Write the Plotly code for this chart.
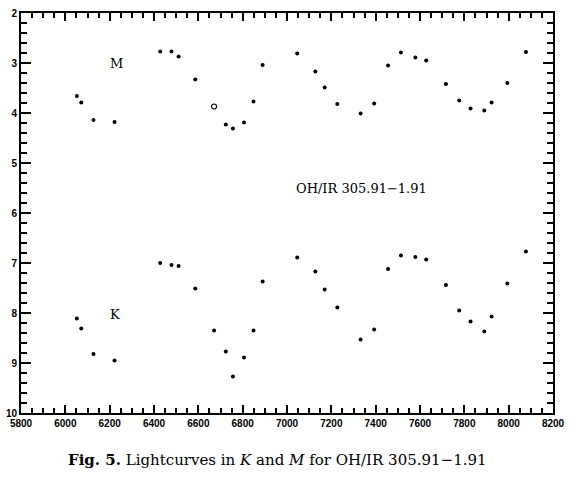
import plotly.graph_objects as go

# Julian date offsets (JD - 2440000) and magnitudes
m_jd = [6052, 6072, 6127, 6222, 6428, 6479, 6511, 6586, 6724, 6756, 6806, 6849, 6890,
        7046, 7128, 7170, 7227, 7332, 7393, 7456, 7514, 7579, 7628, 7717, 7777, 7828,
        7890, 7923, 7994, 8078]
m_mag = [3.66, 3.79, 4.14, 4.18, 2.77, 2.77, 2.87, 3.33, 4.23, 4.31, 4.19, 3.77, 3.04,
         2.81, 3.17, 3.49, 3.82, 4.01, 3.81, 3.05, 2.79, 2.89, 2.95, 3.42, 3.75, 3.91,
         3.95, 3.79, 3.40, 2.78]
m_open_jd = [6671]
m_open_mag = [3.87]

k_jd = [6052, 6072, 6127, 6222, 6428, 6479, 6511, 6586, 6671, 6724, 6756, 6806, 6849,
        6890, 7046, 7128, 7170, 7227, 7332, 7393, 7456, 7514, 7579, 7628, 7717, 7777,
        7828, 7890, 7923, 7994, 8078]
k_mag = [8.11, 8.31, 8.82, 8.95, 7.00, 7.04, 7.06, 7.51, 8.35, 8.77, 9.27, 8.89, 8.35,
         7.37, 6.89, 7.17, 7.53, 7.89, 8.53, 8.33, 7.12, 6.85, 6.88, 6.93, 7.44, 7.95,
         8.17, 8.37, 8.07, 7.41, 6.77]

x_ticks = list(range(5800, 8201, 200))
y_ticks = list(range(2, 11))

fig = go.Figure()
fig.add_trace(go.Scatter(x=m_jd, y=m_mag, mode="markers",
                         marker=dict(symbol="circle", size=4, color="black"),
                         showlegend=False))
fig.add_trace(go.Scatter(x=m_open_jd, y=m_open_mag, mode="markers",
                         marker=dict(symbol="circle-open", size=5, color="black",
                                     line=dict(width=1.2)),
                         showlegend=False))
fig.add_trace(go.Scatter(x=k_jd, y=k_mag, mode="markers",
                         marker=dict(symbol="circle", size=4, color="black"),
                         showlegend=False))

tickfont = dict(family="Liberation Sans", size=10, color="black", weight="bold")

fig.update_xaxes(range=[x_ticks[0], x_ticks[-1]],
                 tick0=x_ticks[0], dtick=x_ticks[1] - x_ticks[0],
                 ticks="inside", ticklen=8, tickwidth=2, tickcolor="black",
                 showline=True, linecolor="black", linewidth=2, mirror="allticks",
                 gridcolor="white", zerolinecolor="white", tickfont=tickfont,
                 automargin=False,
                 minor=dict(dtick=50, tick0=x_ticks[0], ticks="inside",
                            ticklen=5, tickwidth=1.6, tickcolor="black"))
fig.update_yaxes(range=[y_ticks[-1], y_ticks[0]],
                 tick0=y_ticks[0], dtick=1,
                 ticks="inside", ticklen=10, tickwidth=2, tickcolor="black",
                 showline=True, linecolor="black", linewidth=2, mirror="allticks",
                 gridcolor="white", zerolinecolor="white", tickfont=tickfont,
                 automargin=False,
                 minor=dict(dtick=0.2, tick0=y_ticks[0], ticks="inside",
                            ticklen=6, tickwidth=1.6, tickcolor="black"))

serif = "DejaVu Serif"
fig.add_annotation(x=6229, y=3.01, text="M", showarrow=False,
                   font=dict(family=serif, size=13, color="black"))
fig.add_annotation(x=6225, y=8.02, text="K", showarrow=False,
                   font=dict(family=serif, size=13, color="black"))
fig.add_annotation(x=7335, y=5.5, text="OH/IR 305.91\u22121.91", showarrow=False,
                   font=dict(family=serif, size=13, color="black"))
fig.add_annotation(xref="paper", yref="paper", x=0.483, y=-0.145,
                   text="<b>Fig. 5.</b> Lightcurves in <i>K</i> and <i>M</i> for OH/IR 305.91\u22121.91",
                   showarrow=False, font=dict(family=serif, size=15, color="black"))

fig.update_layout(width=570, height=490, margin=dict(l=21, r=17, t=13, b=77),
                  plot_bgcolor="white", paper_bgcolor="white")

fig.write_html("out.html", config={"displayModeBar": False},
               post_script="document.body.style.margin='0';document.body.style.overflow='hidden';")
